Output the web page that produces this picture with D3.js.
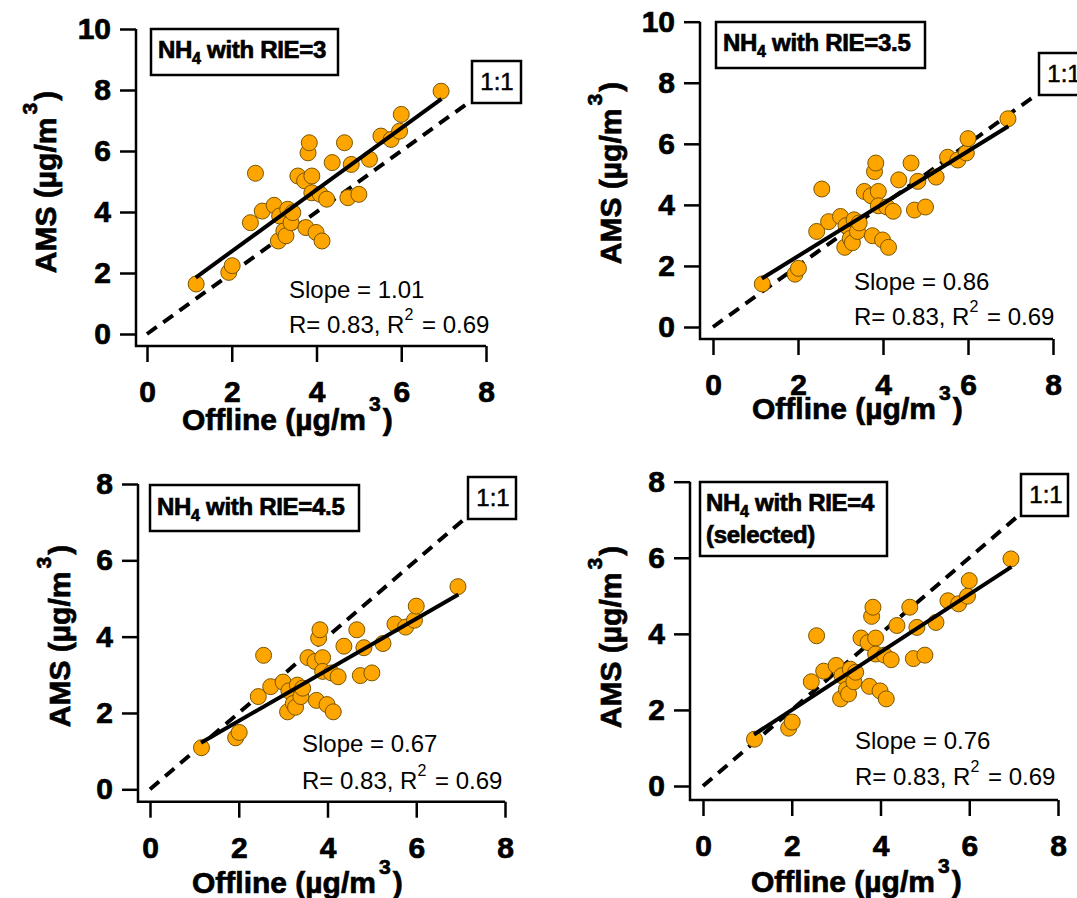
<!DOCTYPE html>
<html>
<head>
<meta charset="utf-8">
<script src="https://cdn.jsdelivr.net/npm/d3@7"></script>
<style>
  body { margin: 0; background: #fff; }
  svg { display: block; }
  text { font-family: "Liberation Sans", Arial, sans-serif; fill: #000; }
  .heavy { stroke: #000; stroke-width: 0.7px; }
</style>
</head>
<body>
<svg id="chart" width="1077" height="898"></svg>
<script>
// offline (x) values, shared by all four panels
const offline = [1.16, 1.93, 2.01, 2.44, 2.56, 2.72, 3.00, 3.10, 3.13, 3.23, 3.28, 3.32,
  3.40, 3.44, 3.56, 3.72, 3.75, 3.80, 3.83, 3.89, 3.89, 3.99, 4.09, 4.13,
  4.24, 4.37, 4.66, 4.74, 4.82, 5.00, 5.25, 5.52, 5.76, 5.96, 6.00, 6.94];

// AMS (y) values for each RIE
const amsRie3 = [1.64, 2.02, 2.24, 3.65, 5.27, 4.03, 4.22, 3.05, 3.87, 3.38, 3.22, 4.09,
  3.65, 3.98, 5.18, 5.02, 3.49, 5.94, 6.27, 5.18, 4.63, 3.33, 4.58, 3.05,
  4.42, 5.62, 6.27, 4.47, 5.56, 4.58, 5.73, 6.49, 6.38, 6.65, 7.20, 7.96];
const amsRie35 = [1.41, 1.73, 1.92, 3.13, 4.52, 3.45, 3.62, 2.61, 3.32, 2.90, 2.76, 3.51,
  3.13, 3.41, 4.44, 4.30, 2.99, 5.09, 5.37, 4.44, 3.97, 2.85, 3.93, 2.61,
  3.79, 4.82, 5.37, 3.83, 4.77, 3.93, 4.91, 5.56, 5.47, 5.70, 6.17, 6.82];
const amsRie45 = [1.09, 1.35, 1.49, 2.43, 3.51, 2.69, 2.81, 2.03, 2.58, 2.25, 2.15, 2.73,
  2.43, 2.65, 3.45, 3.35, 2.33, 3.96, 4.18, 3.45, 3.09, 2.22, 3.05, 2.03,
  2.95, 3.75, 4.18, 2.98, 3.71, 3.05, 3.82, 4.33, 4.25, 4.43, 4.80, 5.31];
const amsRie4 = [1.23, 1.52, 1.68, 2.74, 3.95, 3.02, 3.17, 2.29, 2.90, 2.54, 2.42, 3.07,
  2.74, 2.99, 3.89, 3.77, 2.62, 4.46, 4.70, 3.89, 3.47, 2.50, 3.44, 2.29,
  3.32, 4.22, 4.70, 3.35, 4.17, 3.44, 4.30, 4.87, 4.79, 4.99, 5.40, 5.97];

const rieLabels = ["3", "3.5", "4.5", "4"];
const slopeLabels = ["1.01", "0.86", "0.67", "0.76"];
const fitSlope = [1.01, 0.86, 0.67, 0.76];
const fitIntercept = [0.69, 0.60, 0.45, 0.48];
const fitRange = [1.15, 6.95];
const oneToOneEnd = [7.63, 7.54, 7.05, 7.07];
const yMax = [10, 10, 8, 8];
const yTicks = [[0, 2, 4, 6, 8, 10], [0, 2, 4, 6, 8, 10], [0, 2, 4, 6, 8], [0, 2, 4, 6, 8]];
const xTicks = [0, 2, 4, 6, 8];
const series = [amsRie3, amsRie35, amsRie45, amsRie4];

// pixel layout of each panel
const layout = [
  {x0: 147, x8: 486, y0: 334, yTop: 29, left: 136, bottom: 346,
   ylab: [56, 182], xlab: [182, 430], title: [151, 29, 187, 46, 158, 58],
   one: [472, 61, 49, 42], stats: [289, 298, 333]},
  {x0: 713, x8: 1053, y0: 327, yTop: 21.7, left: 700, bottom: 339,
   ylab: [621, 173], xlab: [752, 419], title: [716, 22, 209, 46, 723, 51],
   one: [1039, 53, 50, 42], stats: [854, 290, 325]},
  {x0: 150, x8: 505, y0: 789.3, yTop: 484, left: 138, bottom: 801.7,
   ylab: [70, 636], xlab: [192, 893], title: [150, 485, 209, 46, 157, 515],
   one: [468, 477, 48, 42], stats: [302, 752, 789]},
  {x0: 703, x8: 1058, y0: 786, yTop: 481.7, left: 690, bottom: 800,
   ylab: [621, 637], xlab: [751, 892], title: [700, 482, 187, 74, 706, 511],
   one: [1021, 474, 47, 42], stats: [855, 749, 785]}
];

const svg = d3.select("#chart");
const FONT = '"Liberation Sans", Arial, sans-serif';

layout.forEach((L, i) => {
  const x = d3.scaleLinear().domain([0, 8]).range([L.x0, L.x8]);
  const y = d3.scaleLinear().domain([0, yMax[i]]).range([L.y0, L.yTop]);
  const g = svg.append("g");

  // axes
  const ya = g.append("g").attr("transform", `translate(${L.left},0)`)
    .call(d3.axisLeft(y).tickValues(yTicks[i]).tickSize(16).tickPadding(9));
  const xa = g.append("g").attr("transform", `translate(0,${L.bottom})`)
    .call(d3.axisBottom(x).tickValues(xTicks).tickSize(16).tickPadding(19));
  [ya, xa].forEach(a => {
    a.select(".domain").remove();
    a.attr("font-family", FONT).attr("font-size", 30).attr("font-weight", "bold");
    a.selectAll("line").attr("stroke", "#000").attr("stroke-width", 2.5);
    a.selectAll("text").attr("fill", "#000").attr("class", "heavy");
  });
  g.append("path")
    .attr("d", `M${L.left},${y(yMax[i])}V${L.bottom}H${x(8)}`)
    .attr("fill", "none").attr("stroke", "#000").attr("stroke-width", 2.5);

  // 1:1 line
  g.append("path")
    .attr("d", d3.line()([[x(0), y(0)], [x(oneToOneEnd[i]), y(oneToOneEnd[i])]]))
    .attr("stroke", "#000").attr("stroke-width", 4).attr("stroke-dasharray", "12,8");

  // points
  g.append("g").selectAll("circle")
    .data(offline.map((v, j) => [v, series[i][j]]))
    .join("circle")
    .attr("cx", d => x(d[0])).attr("cy", d => y(d[1])).attr("r", 8)
    .attr("fill", "#ffa500").attr("stroke", "#7a5600").attr("stroke-width", 1);

  // fit line
  g.append("path")
    .attr("d", d3.line().x(d => x(d)).y(d => y(fitSlope[i] * d + fitIntercept[i]))(fitRange))
    .attr("stroke", "#000").attr("stroke-width", 4).attr("fill", "none");

  // title box
  const [bx, by, bw, bh, tx, ty] = L.title;
  g.append("rect").attr("x", bx).attr("y", by).attr("width", bw).attr("height", bh)
    .attr("fill", "#fff").attr("stroke", "#000").attr("stroke-width", 2.5);
  const t = g.append("text").attr("x", tx).attr("y", ty).attr("class", "heavy")
    .attr("font-size", 24).attr("font-weight", "bold").attr("letter-spacing", -0.3);
  t.append("tspan").text("NH");
  t.append("tspan").attr("font-size", 16).attr("dy", 6).text("4");
  t.append("tspan").attr("dy", -6).text(" with RIE=" + rieLabels[i]);
  if (i === 3) {
    g.append("text").attr("x", tx).attr("y", ty + 32).attr("class", "heavy")
      .attr("font-size", 24).attr("font-weight", "bold").attr("letter-spacing", -0.3)
      .text("(selected)");
  }

  // 1:1 box
  const [ox, oy, ow, oh] = L.one;
  g.append("rect").attr("x", ox).attr("y", oy).attr("width", ow).attr("height", oh)
    .attr("fill", "#fff").attr("stroke", "#000").attr("stroke-width", 2.5);
  g.append("text").attr("x", ox + 25).attr("y", oy + 29).attr("text-anchor", "middle")
    .attr("font-size", 24).attr("stroke", "#000").attr("stroke-width", 0.5).text("1:1");

  // stats
  const [sx, s1, s2] = L.stats;
  g.append("text").attr("x", sx).attr("y", s1).attr("font-size", 24)
    .text("Slope = " + slopeLabels[i]);
  const r = g.append("text").attr("x", sx).attr("y", s2).attr("font-size", 24);
  r.append("tspan").text("R= 0.83, R");
  r.append("tspan").attr("font-size", 16).attr("dy", -13).text("2");
  r.append("tspan").attr("dy", 13).attr("dx", 2).text(" = 0.69");

  // axis titles
  const xl = g.append("text").attr("x", L.xlab[0]).attr("y", L.xlab[1]).attr("class", "heavy")
    .attr("font-size", 30).attr("font-weight", "bold");
  xl.append("tspan").text("Offline (µg/m");
  xl.append("tspan").attr("font-size", 21).attr("dy", -19).attr("dx", 3).text("3");
  xl.append("tspan").attr("dy", 19).attr("dx", 2).text(")");

  const yl = g.append("text").attr("class", "heavy")
    .attr("transform", `translate(${L.ylab[0]},${L.ylab[1]}) rotate(-90)`)
    .attr("text-anchor", "middle").attr("font-size", 30).attr("font-weight", "bold");
  yl.append("tspan").text("AMS (µg/m");
  yl.append("tspan").attr("font-size", 21).attr("dy", -19).attr("dx", 3).text("3");
  yl.append("tspan").attr("dy", 19).attr("dx", 2).text(")");
});
</script>
</body>
</html>
